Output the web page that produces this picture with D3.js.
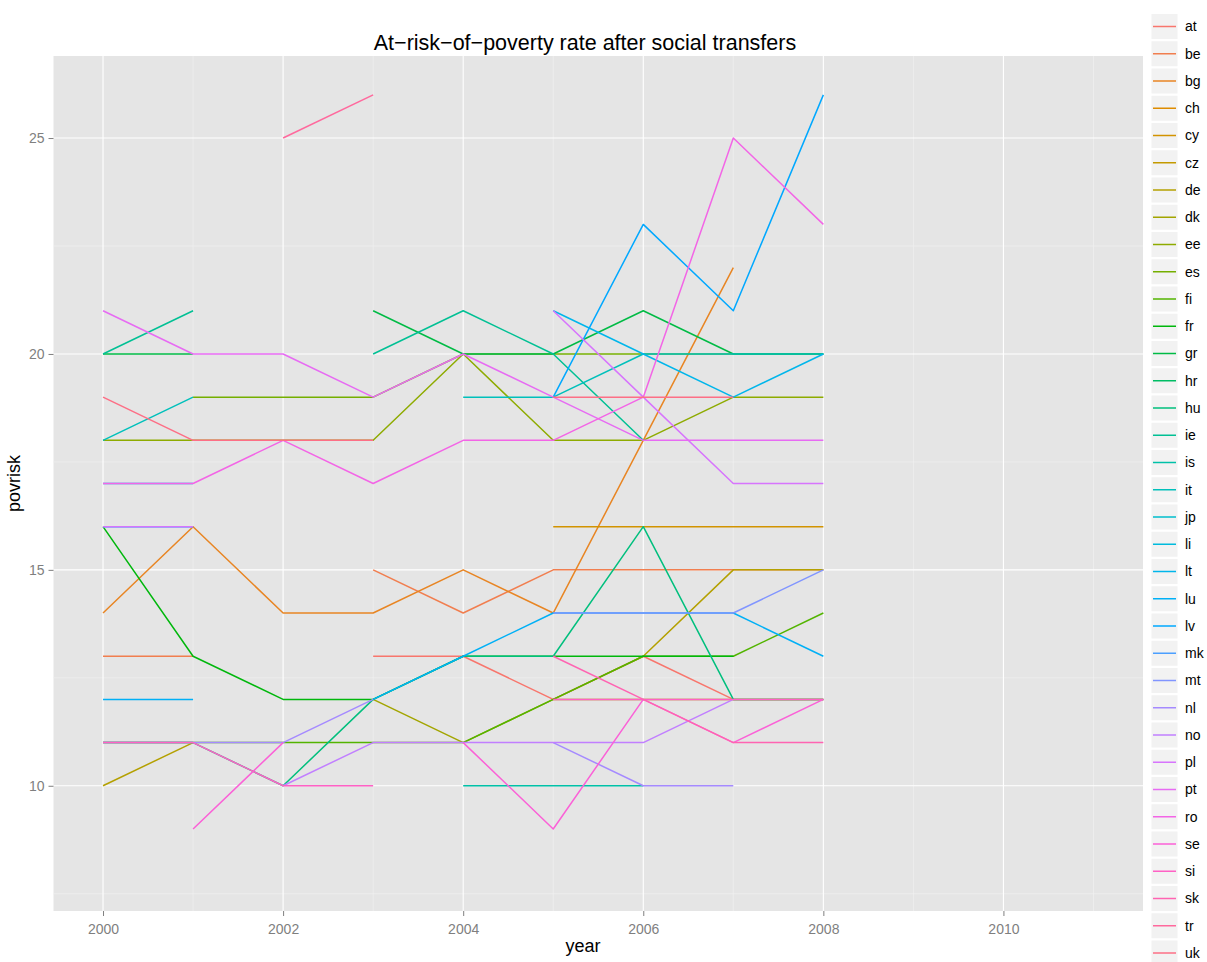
<!DOCTYPE html>
<html>
<head>
<meta charset="utf-8">
<script src="https://cdn.jsdelivr.net/npm/d3@7"></script>
<style>
    body { margin: 0; background: #fff; }
    svg { display: block; font-family: "Liberation Sans", Arial, sans-serif; }
</style>
</head>
<body>
<div id="chart"></div>
<script>
// years on the x axis (the year column runs to 2011 in the source data)
var years = [2000, 2001, 2002, 2003, 2004, 2005, 2006, 2007, 2008];
var yearExtent = [2000, 2011];
var xTicks = [2000, 2002, 2004, 2006, 2008, 2010];
var yTicks = [10, 15, 20, 25];

var countries = ['at', 'be', 'bg', 'ch', 'cy', 'cz', 'de', 'dk', 'ee', 'es',
    'fi', 'fr', 'gr', 'hr', 'hu', 'ie', 'is', 'it', 'jp', 'li', 'lt', 'lu',
    'lv', 'mk', 'mt', 'nl', 'no', 'pl', 'pt', 'ro', 'se', 'si', 'sk', 'tr', 'uk'];

// povrisk per country, one value per entry of years (null = missing)
var _ = null;
var atVals = [_, _, _, 13, 13, 12, 13, 12, 12];
var beVals = [13, 13, _, 15, 14, 15, 15, 15, 15];
var bgVals = [14, 16, 14, 14, 15, 14, 18, 22, _];
var chVals = [_, _, _, _, _, _, _, _, _];
var cyVals = [_, _, _, _, _, 16, 16, 16, 16];
var czVals = [_, 8, _, _, _, _, _, _, _];
var deVals = [10, 11, _, _, _, 12, 13, 15, 15];
var dkVals = [_, _, _, 12, 11, 12, 12, 12, 12];
var eeVals = [18, 18, 18, 18, 20, 18, 18, 19, 19];
var esVals = [_, 19, 19, 19, 20, 20, 20, 20, 20];
var fiVals = [11, 11, 11, 11, 11, 12, 13, 13, 14];
var frVals = [16, 13, 12, 12, 13, 13, 13, 13, _];
var grVals = [20, 20, _, 21, 20, 20, 21, 20, 20];
var hrVals = [_, _, _, _, _, _, _, _, _];
var huVals = [11, 11, 10, 12, 13, 13, 16, 12, 12];
var ieVals = [20, 21, _, 20, 21, 20, 18, _, _];
var isVals = [_, _, _, _, 10, 10, 10, _, _];
var itVals = [18, 19, _, _, 19, 19, 20, 20, 20];
var jpVals = [_, _, _, _, _, _, _, _, _];
var liVals = [_, _, _, _, _, _, _, _, _];
var ltVals = [17, 17, _, _, _, 21, 20, 19, 20];
var luVals = [12, 12, _, 12, 13, 14, 14, 14, 13];
var lvVals = [16, 16, _, _, _, 19, 23, 21, 26];
var mkVals = [_, _, _, _, _, _, _, _, _];
var mtVals = [_, _, _, _, _, 14, 14, 14, 15];
var nlVals = [11, 11, 11, 12, _, 11, 10, 10, _];
var noVals = [_, _, 10, 11, 11, 11, 11, 12, _];
var plVals = [16, 16, _, _, _, 21, 19, 17, 17];
var ptVals = [21, 20, 20, 19, 20, 19, 18, 18, 18];
var roVals = [17, 17, 18, 17, 18, 18, 19, 25, 23];
var seVals = [_, 9, 11, _, 11, 9, 12, 11, 12];
var siVals = [11, 11, 10, 10, _, 12, 12, 12, 12];
var skVals = [_, _, _, _, _, 13, 12, 11, 11];
var trVals = [_, _, 25, 26, _, _, _, _, _];
var ukVals = [19, 18, 18, 18, _, 19, 19, 19, _];

var allVals = [atVals, beVals, bgVals, chVals, cyVals, czVals, deVals, dkVals,
    eeVals, esVals, fiVals, frVals, grVals, hrVals, huVals, ieVals, isVals,
    itVals, jpVals, liVals, ltVals, luVals, lvVals, mkVals, mtVals, nlVals,
    noVals, plVals, ptVals, roVals, seVals, siVals, skVals, trVals, ukVals];

// ggplot's hue palette is built in polar CIE-LUV, so convert by hand
function polarLuv(h, c, l) {
    var hr = h * Math.PI / 180,
        U = c * Math.cos(hr),
        V = c * Math.sin(hr),
        Xn = 95.047, Yn = 100, Zn = 108.883,
        den = Xn + 15 * Yn + 3 * Zn,
        un = 4 * Xn / den,
        vn = 9 * Yn / den,
        Y = l > 8 ? Yn * Math.pow((l + 16) / 116, 3) : Yn * l / 903.3,
        u = U / (13 * l) + un,
        v = V / (13 * l) + vn,
        X = 9 * Y * u / (4 * v),
        Z = -X / 3 - 5 * Y + 3 * Y / v;
    var x = X / 100, y = Y / 100, z = Z / 100;
    var rgb = [
        3.240479 * x - 1.537150 * y - 0.498535 * z,
        -0.969256 * x + 1.875992 * y + 0.041556 * z,
        0.055648 * x - 0.204043 * y + 1.057311 * z
    ].map(function(t) {
        t = t <= 0.0031308 ? 12.92 * t : 1.055 * Math.pow(t, 1 / 2.4) - 0.055;
        return Math.round(Math.max(0, Math.min(1, t)) * 255);
    });
    return d3.rgb(rgb[0], rgb[1], rgb[2]).formatHex();
}

var n = countries.length;
var hues = countries.map(function(d, i) { return 15 + i * 360 / n; });
var color = d3.scaleOrdinal()
    .domain(countries)
    .range(hues.map(function(h) { return polarLuv(h, 100, 65); }));

var width = 1207,
    height = 962,
    panel = { left: 53.5, right: 1143, top: 56, bottom: 911 };

// 5% expansion like ggplot's continuous scales
var yExtent = d3.extent(d3.merge(allVals).filter(function(v) { return v !== null; }));
function expand(ext) {
    var pad = (ext[1] - ext[0]) * 0.05;
    return [ext[0] - pad, ext[1] + pad];
}

var x = d3.scaleLinear().domain(expand(yearExtent)).range([panel.left, panel.right]);
var y = d3.scaleLinear().domain(expand(yExtent)).range([panel.bottom, panel.top]);

var svg = d3.select('#chart').append('svg')
    .attr('width', width)
    .attr('height', height);

svg.append('rect')
    .attr('x', panel.left)
    .attr('y', panel.top)
    .attr('width', panel.right - panel.left)
    .attr('height', panel.bottom - panel.top)
    .attr('fill', '#e5e5e5');

var grid = svg.append('g');
var xMinor = d3.range(yearExtent[0] + 1, yearExtent[1] + 1, 2);
var yMinor = yTicks.map(function(t) { return t - 2.5; });

grid.selectAll('.vminor').data(xMinor).enter().append('line')
    .attr('x1', x).attr('x2', x)
    .attr('y1', panel.top).attr('y2', panel.bottom)
    .attr('stroke', '#f2f2f2').attr('stroke-width', 0.6);
grid.selectAll('.hminor').data(yMinor).enter().append('line')
    .attr('y1', y).attr('y2', y)
    .attr('x1', panel.left).attr('x2', panel.right)
    .attr('stroke', '#f2f2f2').attr('stroke-width', 0.6);
grid.selectAll('.vmajor').data(xTicks).enter().append('line')
    .attr('x1', x).attr('x2', x)
    .attr('y1', panel.top).attr('y2', panel.bottom)
    .attr('stroke', '#ffffff').attr('stroke-width', 1.1);
grid.selectAll('.hmajor').data(yTicks).enter().append('line')
    .attr('y1', y).attr('y2', y)
    .attr('x1', panel.left).attr('x2', panel.right)
    .attr('stroke', '#ffffff').attr('stroke-width', 1.1);

// one path per country, drawn in factor order so uk ends on top
var line = d3.line()
    .defined(function(d) { return d.v !== null; })
    .x(function(d) { return x(d.year); })
    .y(function(d) { return y(d.v); });

var series = countries.map(function(c, i) {
    return {
        country: c,
        points: years.map(function(yr, j) { return { year: yr, v: allVals[i][j] }; })
    };
});

svg.append('g').selectAll('path')
    .data(series)
    .enter().append('path')
    .attr('d', function(d) { return line(d.points); })
    .attr('fill', 'none')
    .attr('stroke', function(d) { return color(d.country); })
    .attr('stroke-width', 1.5)
    .attr('stroke-linejoin', 'round')
    .attr('stroke-linecap', 'butt');

var xAxis = svg.append('g')
    .attr('transform', 'translate(0,' + panel.bottom + ')')
    .call(d3.axisBottom(x).tickValues(xTicks).tickFormat(d3.format('d'))
        .tickSize(5).tickPadding(8));
var yAxis = svg.append('g')
    .attr('transform', 'translate(' + panel.left + ',0)')
    .call(d3.axisLeft(y).tickValues(yTicks).tickSize(5).tickPadding(4));

[xAxis, yAxis].forEach(function(ax) {
    ax.select('.domain').remove();
    ax.selectAll('line').attr('stroke', '#7f7f7f');
    ax.selectAll('text')
        .attr('fill', '#7f7f7f')
        .style('font-size', '14px');
});

svg.append('text')
    .attr('x', 585)
    .attr('y', 50)
    .attr('text-anchor', 'middle')
    .style('font-size', '21.5px')
    .text('At\u2212risk\u2212of\u2212poverty rate after social transfers');

svg.append('text')
    .attr('x', 583)
    .attr('y', 952)
    .attr('text-anchor', 'middle')
    .style('font-size', '18px')
    .text('year');

svg.append('text')
    .attr('transform', 'translate(20,' + ((panel.top + panel.bottom) / 2) + ') rotate(-90)')
    .attr('text-anchor', 'middle')
    .style('font-size', '18px')
    .text('povrisk');

// legend, taller than the window so it spills off the top and bottom
var legend = svg.append('g');
var rowH = 27.25, firstRow = 26.5;

var rows = legend.selectAll('.row')
    .data(countries)
    .enter().append('g')
    .attr('transform', function(d, i) {
        return 'translate(0,' + (firstRow + i * rowH) + ')';
    });

rows.append('rect')
    .attr('x', 1151.5)
    .attr('y', -12.5)
    .attr('width', 26)
    .attr('height', 25)
    .attr('fill', '#f2f2f2');

rows.append('line')
    .attr('x1', 1153)
    .attr('x2', 1176)
    .attr('stroke', function(d) { return color(d); })
    .attr('stroke-width', 1.5);

rows.append('text')
    .attr('x', 1185)
    .attr('dy', '0.35em')
    .style('font-size', '14px')
    .text(function(d) { return d; });
</script>
</body>
</html>
